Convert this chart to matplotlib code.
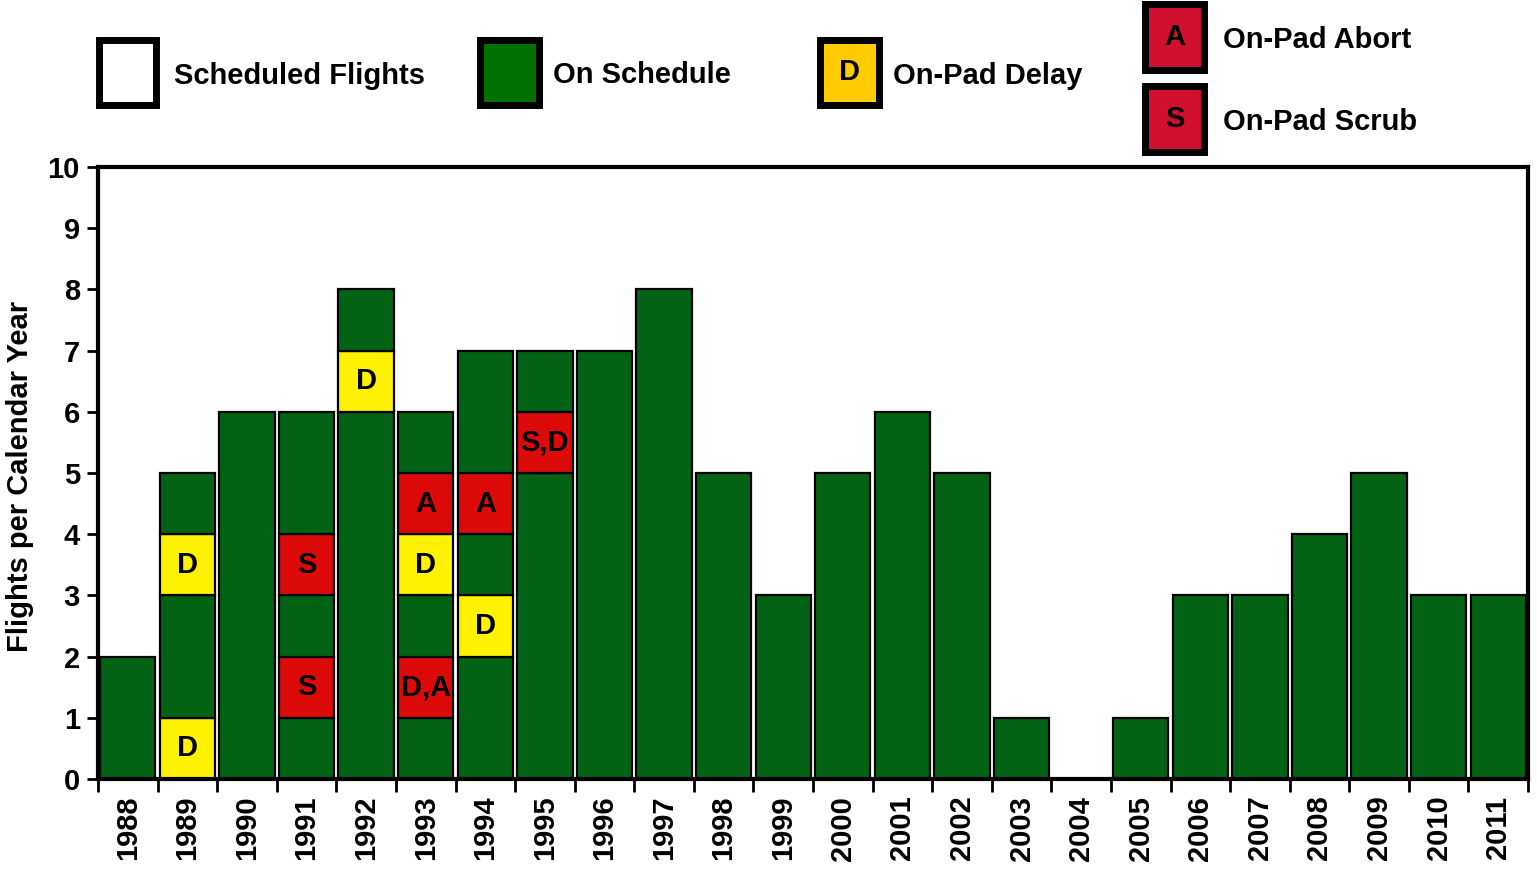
import matplotlib
matplotlib.use("Agg")
import matplotlib.pyplot as plt
from matplotlib.patches import Rectangle
import numpy as np

plt.rcParams["font.family"] = ["Liberation Sans", "DejaVu Sans"]
plt.rcParams["font.weight"] = "bold"

# Flights per calendar year
years = list(range(1988, 2012))
flights = [2, 5, 6, 6, 8, 6, 7, 7, 7, 8, 5, 3, 5, 6, 5, 1, 0, 1, 3, 3, 4, 5, 3, 3]

# Off-nominal flights: (year, flight slot from the bottom, event code)
event_years = [1989, 1989, 1991, 1991, 1992, 1993, 1993, 1993, 1994, 1994, 1995]
event_slots = [0, 3, 1, 3, 6, 1, 3, 4, 2, 4, 5]
event_codes = ["D", "D", "S", "S", "D", "D,A", "D", "A", "D", "A", "S,D"]

legend_labels = ["Scheduled Flights", "On Schedule", "On-Pad Delay",
                 "On-Pad Abort", "On-Pad Scrub"]

GREEN = "#036314"
YELLOW = "#FFF200"
RED = "#DD0A0A"
LEG_GREEN = "#007000"
LEG_YELLOW = "#FFCC00"
LEG_RED = "#D0102E"

W, H = 1537, 872
fig = plt.figure(figsize=(W / 100, H / 100), dpi=100)
ax = fig.add_axes([98 / W, 1 - 779 / H, (1528 - 98) / W, (779 - 167) / H])


def cell_colour(code):
    return YELLOW if code == "D" else RED


bar_w = 0.93
for i, (yr, n) in enumerate(zip(years, flights)):
    events = {s: c for y, s, c in zip(event_years, event_slots, event_codes) if y == yr}
    # build runs of identical status
    slots = [events.get(k, None) for k in range(n)]
    k = 0
    while k < n:
        if slots[k] is None:
            j = k
            while j < n and slots[j] is None:
                j += 1
            ax.bar(i, j - k, bottom=k, width=bar_w, color=GREEN,
                   edgecolor="black", linewidth=1.6, zorder=2)
            k = j
        else:
            ax.bar(i, 1, bottom=k, width=bar_w, color=cell_colour(slots[k]),
                   edgecolor="black", linewidth=1.6, zorder=2)
            ax.text(i, k + 0.5, slots[k], ha="center", va="center",
                    fontsize=21, fontweight="bold", color="black", zorder=3)
            k += 1
    if n == 0:
        ax.plot([i - bar_w / 2, i + bar_w / 2], [0, 0], color="black",
                lw=1.6, zorder=2)

ax.set_xlim(-0.5, len(years) - 0.5)
ax.set_ylim(0, 10)
ax.set_yticks(range(0, 11))
ax.tick_params(axis="y", labelsize=21, width=2, length=8, pad=5)
ax.set_xticks(np.arange(-0.5, len(years)), labels=[])
ax.tick_params(axis="x", which="major", width=2, length=9, direction="out")
ax.set_xticks(range(len(years)), minor=True)
ax.set_xticklabels([str(y) for y in years], minor=True, rotation=90,
                   fontsize=21, fontweight="bold")
ax.tick_params(axis="x", which="minor", length=0, pad=12)
for lab in ax.get_yticklabels():
    lab.set_fontweight("bold")
for sp in ax.spines.values():
    sp.set_linewidth(3)


def fx(px):
    return px / W


def fy(py):
    return 1 - py / H


fig.text(fx(20), fy(476), "Flights per Calendar Year", rotation=90,
         ha="center", va="center", fontsize=21, fontweight="bold")


def legend_box(x0, y0, x1, y1, face, letter=None):
    fig.add_artist(Rectangle((fx(x0), fy(y1)), fx(x1) - fx(x0), fy(y0) - fy(y1),
                             transform=fig.transFigure, facecolor=face,
                             edgecolor="black", linewidth=5, zorder=5))
    if letter:
        fig.text(fx((x0 + x1) / 2), fy((y0 + y1) / 2), letter, ha="center",
                 va="center", fontsize=21, fontweight="bold", zorder=6)


legend_faces = ["white", LEG_GREEN, LEG_YELLOW, LEG_RED, LEG_RED]
legend_letters = [None, None, "D", "A", "S"]
legend_boxes = [(99, 40, 156, 105), (480, 40, 539, 105), (820, 40, 879, 105),
                (1145, 4, 1204, 70), (1145, 86, 1204, 152)]
legend_text_xy = [(174, 76), (553, 75), (893, 76), (1223, 40), (1223, 122)]
for face, letter, box, (tx, ty), lab in zip(legend_faces, legend_letters,
                                             legend_boxes, legend_text_xy,
                                             legend_labels):
    legend_box(*box, face, letter)
    fig.text(fx(tx), fy(ty), lab, ha="left", va="center", fontsize=21,
             fontweight="bold")

fig.savefig("out.png", dpi=100)
